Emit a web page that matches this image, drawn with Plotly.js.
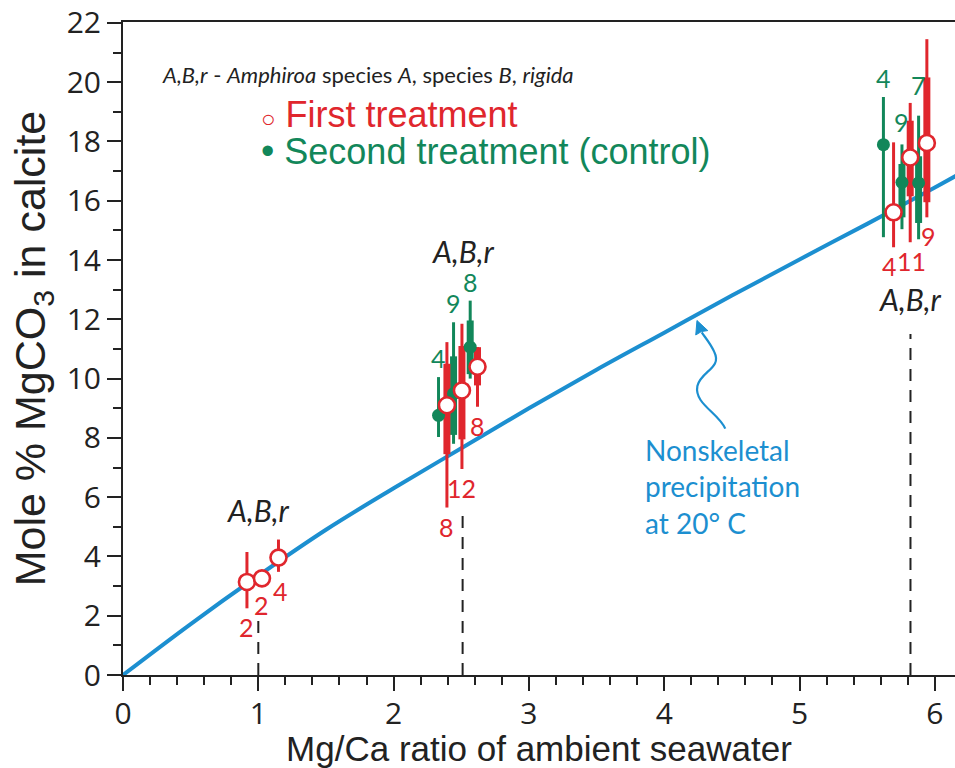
<!DOCTYPE html>
<html>
<head>
<meta charset="utf-8">
<script src="https://cdn.plot.ly/plotly-3.0.1.min.js"></script>
<style>html,body{margin:0;padding:0;background:#fff;}#chart{width:955px;height:768px;}</style>
</head>
<body>
<div id="chart"></div>
<script>
// ---- Nonskeletal precipitation curve (20 °C) ----
const curveX = [0, 0.5, 1, 1.5, 2, 2.5, 3, 3.5, 4, 4.5, 5, 5.5, 6, 6.16];
const curveY = [0, 1.72, 3.35, 4.9, 6.3, 7.65, 9.0, 10.3, 11.55, 12.8, 14.02, 15.22, 16.45, 16.85];

// ---- First treatment (red, open circles) ----
const redX       = [0.916, 1.027, 1.149, 2.394, 2.505, 2.620, 5.695, 5.818, 5.941];
const redY       = [3.14, 3.26, 3.96, 9.10, 9.60, 10.40, 15.61, 17.46, 17.95];
const redThinLo  = [2.25, 3.00, 3.48, 5.65, 6.95, 9.05, 14.43, 14.60, 15.44];
const redThinHi  = [4.15, 3.50, 4.57, 11.23, 11.85, 11.06, 17.97, 19.30, 21.45];
const redThickLo = [3.14, 3.26, 3.96, 7.45, 7.95, 9.77, 15.61, 16.15, 15.95];
const redThickHi = [3.14, 3.26, 3.96, 10.50, 11.10, 11.06, 15.61, 18.70, 20.16];
const redN       = ['2', '2', '4', '8', '12', '8', '4', '11', '9'];

// ---- Second treatment (control) (green, filled circles) ----
const greenX       = [2.332, 2.443, 2.566, 5.620, 5.757, 5.880];
const greenY       = [8.76, 9.49, 11.06, 17.89, 16.62, 16.60];
const greenThinLo  = [8.03, 7.80, 10.00, 14.77, 15.04, 14.70];
const greenThinHi  = [10.05, 11.90, 12.63, 19.50, 17.90, 18.87];
const greenThickLo = [8.76, 8.10, 10.15, 17.89, 15.44, 15.25];
const greenThickHi = [8.76, 10.75, 11.96, 17.89, 17.24, 17.50];
const greenN       = ['4', '9', '8', '4', '9', '7'];

// ---- Seawater Mg/Ca treatments (dashed markers) ----
const seawaterRatio = [1.0, 2.51, 5.82];
const dashTop       = [1.96, 5.55, 11.5];
const groupLabelY   = [5.56, 14.3, 12.7];
const groupLabel    = 'A,B,r';

// ---- Axis ticks ----
const xTickVals = [0, 1, 2, 3, 4, 5, 6];
const yTickVals = [0, 2, 4, 6, 8, 10, 12, 14, 16, 18, 20, 22];

// ---------- styles ----------
const RED = '#e0262d', GREEN = '#12875a', BLUE = '#1c8fd0', INK = '#222222';
const MYRIAD = 'Lato, "Open Sans", sans-serif';
const HELV = '"Liberation Sans", Arial, sans-serif';

function diff(a, b) { return a.map((v, i) => v - b[i]); }

function barTrace(x, y, lo, hi, color, thick) {
  return {
    type: 'scatter', mode: 'markers', x: x, y: y,
    marker: {color: 'rgba(0,0,0,0)', size: 1},
    error_y: {type: 'data', symmetric: false, array: diff(hi, y), arrayminus: diff(y, lo),
              color: color, thickness: thick, width: 0},
    hoverinfo: 'skip', showlegend: false
  };
}

const traces = [
  {type: 'scatter', mode: 'lines', x: curveX, y: curveY, name: 'Nonskeletal precipitation at 20° C',
   line: {color: BLUE, width: 4, shape: 'spline'}, showlegend: false},
  barTrace(greenX, greenY, greenThinLo, greenThinHi, GREEN, 3),
  barTrace(greenX, greenY, greenThickLo, greenThickHi, GREEN, 7),
  barTrace(redX, redY, redThinLo, redThinHi, RED, 3),
  barTrace(redX, redY, redThickLo, redThickHi, RED, 7),
  {type: 'scatter', mode: 'markers', x: greenX, y: greenY, name: 'Second treatment (control)',
   marker: {color: GREEN, size: 13, line: {width: 0}}, showlegend: false},
  {type: 'scatter', mode: 'markers', x: redX, y: redY, name: 'First treatment',
   marker: {color: '#ffffff', size: 16, line: {color: RED, width: 2.6}}, showlegend: false}
];

const annotations = [];
// sample-size labels
const redShiftX = [0, 0, 2, 0, 0, 0, -4, 1, 2];
redN.forEach((t, i) => annotations.push({x: redX[i], y: redThinLo[i], xref: 'x', yref: 'y', text: t,
  showarrow: false, xanchor: 'center', yanchor: 'top', yshift: -2, xshift: redShiftX[i],
  font: {family: MYRIAD, size: 25, color: RED}}));
const greenShift = [0, 0, 0, 0, 3, 12];
greenN.forEach((t, i) => annotations.push({x: greenX[i], y: greenThinHi[i], xref: 'x', yref: 'y', text: t,
  showarrow: false, xanchor: 'center', yanchor: 'bottom', yshift: 2 + greenShift[i],
  font: {family: MYRIAD, size: 25, color: GREEN}}));
// group labels
seawaterRatio.forEach((r, i) => annotations.push({x: r, y: groupLabelY[i], xref: 'x', yref: 'y',
  text: '<i>' + groupLabel + '</i>', showarrow: false, xanchor: 'center', yanchor: 'middle',
  font: {family: MYRIAD, size: 30, color: INK}}));
// key
annotations.push({xref: 'paper', yref: 'paper', x: 0.045, y: 0.92, xanchor: 'left', yanchor: 'middle',
  showarrow: false, align: 'left',
  text: '<i>A,B,r</i> - <i>Amphiroa</i> species <i>A</i>, species <i>B</i>, <i>rigida</i>',
  font: {family: MYRIAD, size: 22, color: INK}});
annotations.push({xref: 'paper', yref: 'paper', x: 0.163, y: 0.858, xanchor: 'left', yanchor: 'middle',
  showarrow: false, align: 'left',
  text: '<span style="font-size:24px">○</span> First treatment',
  font: {family: HELV, size: 36, color: RED}});
annotations.push({xref: 'paper', yref: 'paper', x: 0.163, y: 0.802, xanchor: 'left', yanchor: 'middle',
  showarrow: false, align: 'left',
  text: '<span style="font-size:38px">•</span> Second treatment (control)',
  font: {family: HELV, size: 36, color: GREEN}});
// curve label
annotations.push({x: 3.845, y: 6.37, xref: 'x', yref: 'y', xanchor: 'left', yanchor: 'middle',
  showarrow: false, align: 'left', text: 'Nonskeletal<br>precipitation<br>at 20° C',
  font: {family: MYRIAD, size: 28, color: BLUE}});

const shapes = seawaterRatio.map((r, i) => ({type: 'line', xref: 'x', yref: 'y', x0: r, x1: r, y0: 0, y1: dashTop[i],
  line: {color: INK, width: 2, dash: '12px,9px'}, layer: 'below'}));
// wavy pointer from the label to the curve
shapes.push({type: 'path', xref: 'x', yref: 'y', layer: 'above',
  path: 'M 4.451 8.31 C 4.40 8.85, 4.22 9.15, 4.245 9.75 C 4.27 10.25, 4.43 10.35, 4.37 10.9 C 4.34 11.2, 4.30 11.4, 4.277 11.56',
  line: {color: BLUE, width: 2.2}});
shapes.push({type: 'path', xref: 'x', yref: 'y', layer: 'above',
  path: 'M 4.242 11.96 L 4.322 11.62 L 4.274 11.585 L 4.233 11.47 Z',
  fillcolor: BLUE, line: {color: BLUE, width: 1}});

const axisCommon = {showgrid: false, zeroline: false, showline: true, linecolor: INK, linewidth: 2,
  ticks: 'outside', ticklen: 14, tickwidth: 2, tickcolor: INK, automargin: false,
  tickfont: {family: '"Open Sans", sans-serif', size: 30, color: INK}};

const layout = {
  width: 955, height: 768,
  margin: {l: 123, r: 0, t: 22, b: 93, pad: 0},
  paper_bgcolor: '#ffffff', plot_bgcolor: '#ffffff',
  showlegend: false, hovermode: false,
  xaxis: Object.assign({}, axisCommon, {range: [0, 6.149], tickvals: xTickVals, mirror: true,
    ticklabelstandoff: -3,
    minor: {dtick: 0.2, tick0: 0, ticks: 'outside', ticklen: 8, tickwidth: 2, tickcolor: INK},
    title: {text: 'Mg/Ca ratio of ambient seawater', standoff: 6, font: {family: HELV, size: 35, color: INK}}}),
  yaxis: Object.assign({}, axisCommon, {range: [0, 22.03], tickvals: yTickVals,
    minor: {dtick: 1, tick0: 0, ticks: 'outside', ticklen: 8, tickwidth: 2, tickcolor: INK},
    title: {text: 'Mole % MgCO<sub>3</sub> in calcite', standoff: 8, font: {family: HELV, size: 43, color: INK}}}),
  annotations: annotations,
  shapes: shapes
};

Plotly.newPlot('chart', traces, layout, {staticPlot: true, displayModeBar: false});
</script>
</body>
</html>
